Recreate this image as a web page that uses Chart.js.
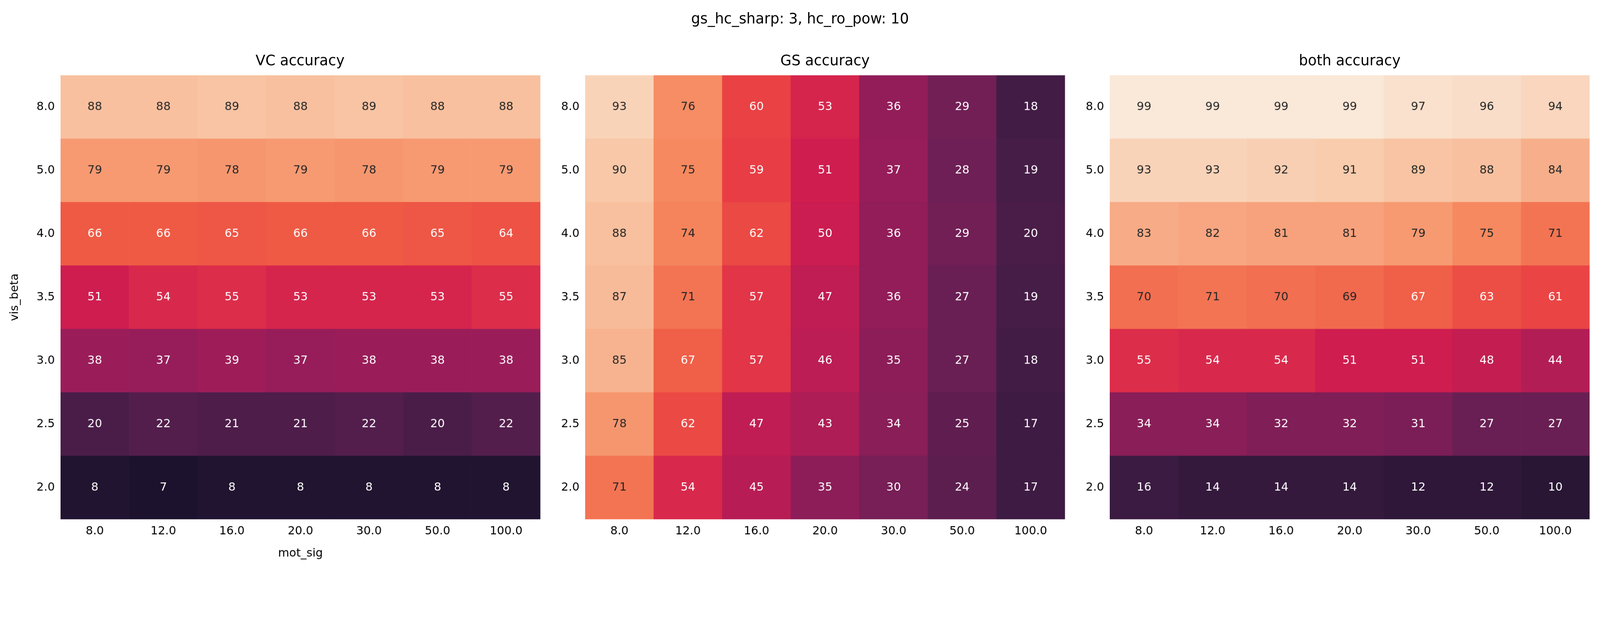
<!DOCTYPE html>
<html>
<head>
<meta charset="utf-8">
<script src="https://cdn.jsdelivr.net/npm/chart.js@4"></script>
<style>
  html, body { margin: 0; padding: 0; background: #fff; overflow: hidden; }
  #page { position: absolute; left: 0; top: 0; width: 4468px; height: 1586px; transform-origin: 0 0; font-family: 'DejaVu Sans', sans-serif; }
  .box { position: absolute; top: 120px; width: 1509px; height: 1466px; }
  .ttl { position: absolute; font-size: 40px; color: #000; transform: translate(-50%, -50%); white-space: nowrap; }
</style>
</head>
<body>
<div id="page">
<div class="ttl" style="left:2234px; top:51px;">gs_hc_sharp: 3, hc_ro_pow: 10</div>
<div class="ttl" style="left:838px; top:168px;">VC accuracy</div>
<div class="ttl" style="left:2304px; top:168px;">GS accuracy</div>
<div class="ttl" style="left:3769px; top:168px;">both accuracy</div>
<div class="box" style="left:0px;"><canvas id="c0"></canvas></div>
<div class="box" style="left:1465px;"><canvas id="c1"></canvas></div>
<div class="box" style="left:2930px;"><canvas id="c2"></canvas></div>
</div>
<script>
// Fit the 4468-wide layout into whatever the viewport really is
const pageScale = window.innerWidth / 4468;
document.getElementById('page').style.transform = `scale(${pageScale})`;

// Axis labels
const motSig = ['8.0', '12.0', '16.0', '20.0', '30.0', '50.0', '100.0'];
const visBeta = ['2.0', '2.5', '3.0', '3.5', '4.0', '5.0', '8.0']; // bottom to top

// Accuracy tables, rows top (8.0) to bottom (2.0)
const vcAcc = [
    [88, 88, 89, 88, 89, 88, 88],
    [79, 79, 78, 79, 78, 79, 79],
    [66, 66, 65, 66, 66, 65, 64],
    [51, 54, 55, 53, 53, 53, 55],
    [38, 37, 39, 37, 38, 38, 38],
    [20, 22, 21, 21, 22, 20, 22],
    [8, 7, 8, 8, 8, 8, 8]
];
const gsAcc = [
    [93, 76, 60, 53, 36, 29, 18],
    [90, 75, 59, 51, 37, 28, 19],
    [88, 74, 62, 50, 36, 29, 20],
    [87, 71, 57, 47, 36, 27, 19],
    [85, 67, 57, 46, 35, 27, 18],
    [78, 62, 47, 43, 34, 25, 17],
    [71, 54, 45, 35, 30, 24, 17]
];
const bothAcc = [
    [99, 99, 99, 99, 97, 96, 94],
    [93, 93, 92, 91, 89, 88, 84],
    [83, 82, 81, 81, 79, 75, 71],
    [70, 71, 70, 69, 67, 63, 61],
    [55, 54, 54, 51, 51, 48, 44],
    [34, 34, 32, 32, 31, 27, 27],
    [16, 14, 14, 14, 12, 12, 10]
];

// "rocket" colormap (value 0..100)
const cmapStops = [
    [0, '#03051a'], [8, '#211430'], [19, '#451d47'], [28, '#6e1f55'],
    [37, '#961d5a'], [51, '#cf1d50'], [59, '#e83d44'], [66, '#ef5a45'],
    [75, '#f6895f'], [90, '#f8c8a8'], [100, '#faebdd']
];

function hexToRgb(h) {
    return [1, 3, 5].map(i => parseInt(h.substr(i, 2), 16));
}

function rocket(v) {
    for (let i = 1; i < cmapStops.length; i++) {
        const [v1, c1] = cmapStops[i];
        const [v0, c0] = cmapStops[i - 1];
        if (v <= v1) {
            const t = (v - v0) / (v1 - v0);
            const a = hexToRgb(c0), b = hexToRgb(c1);
            const rgb = a.map((x, k) => Math.round(x + (b[k] - x) * t));
            return `rgb(${rgb.join(',')})`;
        }
    }
    return cmapStops[cmapStops.length - 1][1];
}

// Cell value labels
const cellLabels = {
    id: 'cellLabels',
    afterDatasetsDraw(chart) {
        const ctx = chart.ctx;
        ctx.save();
        ctx.font = '32px "DejaVu Sans"';
        ctx.textAlign = 'center';
        ctx.textBaseline = 'middle';
        chart.data.datasets.forEach((ds, di) => {
            chart.getDatasetMeta(di).data.forEach((bar, i) => {
                const v = ds.values[i];
                const y = (bar.y + bar.base) / 2;
                ctx.fillStyle = v < 68 ? '#ffffff' : '#262626';
                ctx.fillText(String(v), bar.x, y);
            });
        });
        ctx.restore();
    }
};

function makeHeatmap(id, table, first) {
    const rows = table.slice().reverse(); // bottom row first
    const datasets = rows.map((row, r) => ({
        label: visBeta[r],
        data: row.map(() => 1),
        values: row,
        backgroundColor: row.map(rocket),
        borderWidth: 0,
        barPercentage: 1,
        categoryPercentage: 1
    }));

    new Chart(document.getElementById(id), {
        type: 'bar',
        data: { labels: motSig, datasets: datasets },
        options: {
            responsive: true,
            maintainAspectRatio: false,
            animation: false,
            devicePixelRatio: 1,
            layout: { padding: { top: 90, right: 0, left: 0, bottom: 0 } },
            plugins: { legend: { display: false }, tooltip: { enabled: false } },
            scales: {
                x: {
                    stacked: true,
                    grid: { display: false, drawTicks: false },
                    border: { display: false },
                    ticks: { color: '#000', font: { size: 32, family: 'DejaVu Sans' }, padding: 14 },
                    title: {
                        display: first, text: 'mot_sig', color: '#000',
                        font: { size: 32, family: 'DejaVu Sans' }, padding: { top: 0, bottom: 22 }
                    },
                    afterFit: (s) => { s.height = 137; }
                },
                y: {
                    stacked: true,
                    min: 0,
                    max: 7,
                    grid: { display: false, drawTicks: false },
                    border: { display: false },
                    afterBuildTicks: (s) => { s.ticks = visBeta.map((_, i) => ({ value: i + 0.5 })); },
                    ticks: {
                        color: '#000', font: { size: 32, family: 'DejaVu Sans' }, padding: 16,
                        callback: (v) => visBeta[Math.floor(v)]
                    },
                    title: {
                        display: first, text: 'vis_beta', color: '#000',
                        font: { size: 32, family: 'DejaVu Sans' }, padding: { top: 22, bottom: 0 }
                    },
                    afterFit: (s) => { s.width = 169; }
                }
            }
        },
        plugins: [cellLabels]
    });
}

makeHeatmap('c0', vcAcc, true);
makeHeatmap('c1', gsAcc, false);
makeHeatmap('c2', bothAcc, false);
</script>
</body>
</html>
